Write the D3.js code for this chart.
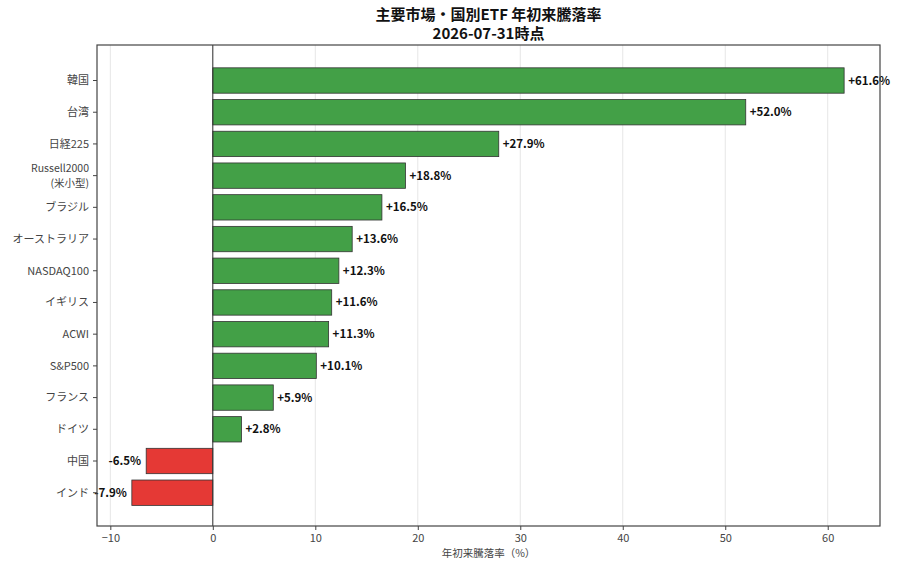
<!DOCTYPE html>
<html><head><meta charset="utf-8">
<script src="https://cdn.jsdelivr.net/npm/d3@7"></script>
<style>body{margin:0;background:#fff;} text{font-family:"Noto Sans CJK JP","Noto Sans",sans-serif;}</style>
</head><body>
<svg id="c" width="900" height="570"></svg>
<script>
const categories = ["韓国","台湾","日経225","Russell2000\n(米小型)","ブラジル","オーストラリア","NASDAQ100","イギリス","ACWI","S&P500","フランス","ドイツ","中国","インド"];
const values = [61.6,52.0,27.9,18.8,16.5,13.6,12.3,11.6,11.3,10.1,5.9,2.8,-6.5,-7.9];
const xTicks = [-10,0,10,20,30,40,50,60];
const titleLines = ["主要市場・国別ETF 年初来騰落率","2026-07-31時点"];
const xLabel = "年初来騰落率（%）";

const svg = d3.select("#c");
const L=97,R=880,T=45,B=526;
const x = d3.scaleLinear().domain([-11.3,65.1]).range([L,R]);
const y = d3.scaleLinear().domain([-1.12,14.05]).range([T,B]);
const step = y(1)-y(0);
const bh = step*0.8;

// grid
svg.append("g").selectAll("line").data(xTicks).join("line")
  .attr("x1",d=>x(d)).attr("x2",d=>x(d)).attr("y1",T).attr("y2",B)
  .attr("stroke","#e6e6e6").attr("stroke-width",1);

// bars
svg.append("g").selectAll("rect").data(values).join("rect")
  .attr("x",d=>x(Math.min(0,d))).attr("width",d=>Math.abs(x(d)-x(0)))
  .attr("y",(d,i)=>y(i)-bh/2).attr("height",bh)
  .attr("fill",d=>d>=0?"#43a047":"#e53935")
  .attr("stroke","#333").attr("stroke-width",0.8);

// zero line
svg.append("line").attr("x1",x(0)).attr("x2",x(0)).attr("y1",T).attr("y2",B)
  .attr("stroke","#333").attr("stroke-width",1);

// value labels
svg.append("g").selectAll("text").data(values).join("text")
  .attr("x",d=>d>=0?x(d)+4:x(d)-5)
  .attr("y",(d,i)=>y(i)).attr("dy","0.35em")
  .attr("text-anchor",d=>d>=0?"start":"end")
  .attr("font-size",11.5).attr("font-weight","bold").attr("fill","#111")
  .text(d=>(d>=0?"+":"")+d.toFixed(1)+"%");

// frame
svg.append("rect").attr("x",L).attr("y",T).attr("width",R-L).attr("height",B-T)
  .attr("fill","none").attr("stroke","#444").attr("stroke-width",1.2);

// x axis
const xa = svg.append("g").attr("transform",`translate(0,${B})`)
  .call(d3.axisBottom(x).tickValues(xTicks).tickSize(4).tickPadding(4));
xa.select(".domain").remove();
xa.selectAll("line").attr("stroke","#444");
xa.selectAll("text").attr("font-size",11).attr("fill","#444")
  .style("font-family","'Noto Sans CJK JP',sans-serif");

// y axis labels
const yg = svg.append("g");
categories.forEach((c,i)=>{
  yg.append("line").attr("x1",L-4).attr("x2",L).attr("y1",y(i)).attr("y2",y(i)).attr("stroke","#444");
  const lines = c.split("\n");
  lines.forEach((ln,k)=>{
    yg.append("text").attr("x",L-8).attr("text-anchor","end")
     .attr("font-size",lines.length>1?10.5:11).attr("fill","#444")
     .attr("y",y(i)+(k-(lines.length-1)/2)*15.5).attr("dy","0.35em").text(ln);
  });
});

// x label
svg.append("text").attr("x",(L+R)/2).attr("y",557).attr("text-anchor","middle")
  .attr("font-size",10.5).attr("fill","#444").text(xLabel);

// title
titleLines.forEach((t,k)=>{
  svg.append("text").attr("x",(L+R)/2).attr("y",20+k*19).attr("text-anchor","middle")
    .attr("font-size",15).attr("font-weight","bold").attr("fill","#111").text(t);
});
</script>
</body></html>
